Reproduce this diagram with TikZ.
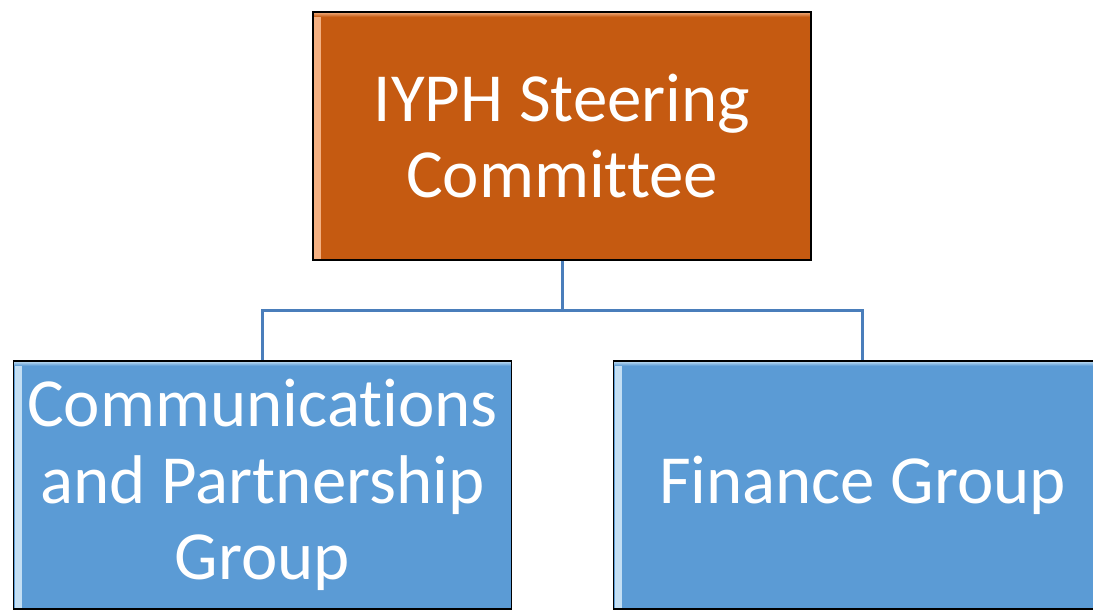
\documentclass[tikz,border=0pt]{standalone}
\usepackage{fontspec}
\setmainfont{Carlito}[Ligatures=NoCommon]
\usetikzlibrary{positioning}
\definecolor{steerorange}{HTML}{C55A11}
\definecolor{steerlight}{HTML}{F4B183}
\definecolor{groupblue}{HTML}{5B9BD5}
\definecolor{grouplight}{HTML}{C5E0F4}
\definecolor{linkblue}{HTML}{4A7EBB}
\tikzset{
  orgbox/.style={draw=black,line width=1.1pt,inner sep=0pt,
    minimum width=12.45cm,minimum height=6.2cm,align=center,text=white,
    font=\fontsize{49}{54.5}\selectfont},
  topbox/.style={orgbox,fill=steerorange,
    path picture={
      \fill[left color=steerlight,right color=steerorange]
        ([xshift=0.04cm]path picture bounding box.north west) rectangle
        ([xshift=0.2cm]path picture bounding box.south west);
      \fill[top color=steerlight,bottom color=steerorange]
        (path picture bounding box.north west) rectangle
        ([yshift=-0.12cm]path picture bounding box.north east);
    }},
  groupbox/.style={orgbox,fill=groupblue,
    path picture={
      \fill[left color=grouplight,right color=groupblue]
        ([xshift=0.04cm]path picture bounding box.north west) rectangle
        ([xshift=0.2cm]path picture bounding box.south west);
      \fill[top color=grouplight,bottom color=groupblue]
        (path picture bounding box.north west) rectangle
        ([yshift=-0.12cm]path picture bounding box.north east);
    }},
  link/.style={draw=linkblue,line width=0.075cm}
}
\begin{document}
\begin{tikzpicture}[x=0.025cm,y=-0.025cm]
 \useasboundingbox (0,0) rectangle (1093,610);
 \clip (0,0) rectangle (1093,610);
 % boxes
 \node[topbox] (steer) at (562,136) {IYPH Steering\\Committee};
 \node[groupbox] (comms) at (262.5,485) {Communications\\and Partnership\\Group};
 \node[groupbox] (fin) at (862.5,485) {Finance Group};
 % links
 \draw[link] (steer.south) -- ++(0,50) -| (comms.north);
 \draw[link] (steer.south) -- ++(0,50) -| (fin.north);
\end{tikzpicture}
\end{document}
